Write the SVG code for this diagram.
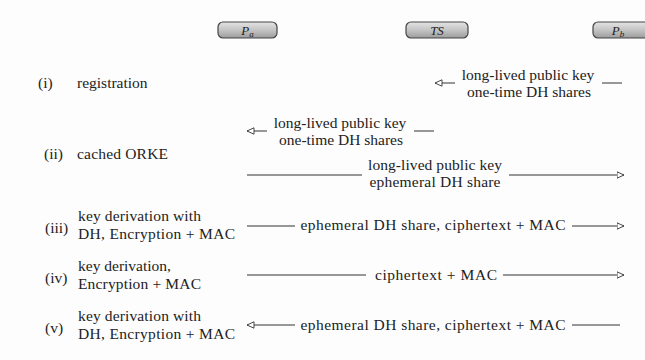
<svg xmlns="http://www.w3.org/2000/svg" width="645" height="360" viewBox="0 0 645 360">
<defs>
<linearGradient id="boxfill" x1="0" y1="0" x2="0" y2="1">
<stop offset="0" stop-color="#e4e4e4"/>
<stop offset="0.5" stop-color="#c4c4c4"/>
<stop offset="1" stop-color="#9c9c9c"/>
</linearGradient>
<marker id="ah" viewBox="0 0 8 8" markerWidth="8" markerHeight="8" refX="7.5" refY="4" orient="auto" markerUnits="userSpaceOnUse">
<path d="M0.5,0.8 L7.5,4 L0.5,7.2 Z" fill="#ffffff" stroke="#333" stroke-width="0.9"/>
</marker>
</defs>
<style>
.bg{fill:#fdfdfd}
.box{fill:url(#boxfill);stroke:#444;stroke-width:1.2}
.nl{font-family:'Liberation Serif','Times New Roman','DejaVu Serif',serif;font-style:italic;font-size:13px;fill:#222;text-anchor:middle}
.t{font-family:'Liberation Serif','Times New Roman','DejaVu Serif',serif;font-size:15.5px;fill:#222}
.m{font-family:'Liberation Serif','Times New Roman','DejaVu Serif',serif;font-size:15.5px;fill:#222;text-anchor:middle}
.c{stroke:#333;stroke-width:1;fill:none}
.ca{stroke:#333;stroke-width:1;fill:none;marker-end:url(#ah)}
</style>
<rect class="bg" x="0" y="0" width="645" height="360"/>

<g id="node-Pa">
<rect class="box" x="218" y="22" width="59" height="16" rx="5"/>
<text class="nl" x="247.5" y="34.5">P<tspan font-size="9" dy="2">a</tspan></text>
</g>
<g id="node-TS">
<rect class="box" x="406" y="22" width="62" height="16" rx="5"/>
<text class="nl" x="437" y="34.5">TS</text>
</g>
<g id="node-Pb">
<rect class="box" x="593" y="22" width="62" height="16" rx="5"/>
<text class="nl" x="618" y="34.5">P<tspan font-size="9" dy="2">b</tspan></text>
</g>

<g id="step-labels">
<text class="t" x="38" y="88">(i)</text>
<text class="t" x="77" y="88">registration</text>
<text class="t" x="44" y="159">(ii)</text>
<text class="t" x="77" y="159" textLength="91">cached ORKE</text>
<text class="t" x="45" y="233" font-size="14">(iii)</text>
<text class="t" x="78" y="221" textLength="123">key derivation with</text>
<text class="t" x="78" y="239" textLength="157">DH, Encryption + MAC</text>
<text class="t" x="45" y="283" font-size="14">(iv)</text>
<text class="t" x="78" y="271">key derivation,</text>
<text class="t" x="78" y="289" textLength="123">Encryption + MAC</text>
<text class="t" x="45" y="333" font-size="14">(v)</text>
<text class="t" x="78" y="321" textLength="123">key derivation with</text>
<text class="t" x="78" y="339" textLength="157">DH, Encryption + MAC</text>
</g>

<g id="connectors">
<line class="ca" x1="455" y1="83" x2="435" y2="83"/>
<line class="c" x1="602" y1="83" x2="622" y2="83"/>
<line class="ca" x1="267" y1="131" x2="247" y2="131"/>
<line class="c" x1="414" y1="131" x2="434" y2="131"/>
<line class="c" x1="247" y1="175" x2="362" y2="175"/>
<line class="ca" x1="509" y1="175" x2="624" y2="175"/>
<line class="c" x1="247" y1="226" x2="295" y2="226"/>
<line class="ca" x1="572" y1="226" x2="624" y2="226"/>
<line class="c" x1="247" y1="275" x2="366" y2="275"/>
<line class="ca" x1="503" y1="275" x2="624" y2="275"/>
<line class="ca" x1="295" y1="325" x2="247" y2="325"/>
<line class="c" x1="572" y1="325" x2="620" y2="325"/>
</g>

<g id="messages">
<text class="m" x="528" y="80">long-lived public key</text>
<text class="m" x="529" y="97">one-time DH shares</text>
<text class="m" x="340" y="128">long-lived public key</text>
<text class="m" x="341" y="145">one-time DH shares</text>
<text class="m" x="435" y="170" textLength="134">long-lived public key</text>
<text class="m" x="435" y="187" textLength="131">ephemeral DH share</text>
<text class="m" x="433" y="230" font-size="16" textLength="265">ephemeral DH share, ciphertext + MAC</text>
<text class="m" x="436" y="280" font-size="16" textLength="122">ciphertext + MAC</text>
<text class="m" x="433" y="330" font-size="16" textLength="265">ephemeral DH share, ciphertext + MAC</text>
</g>
</svg>
